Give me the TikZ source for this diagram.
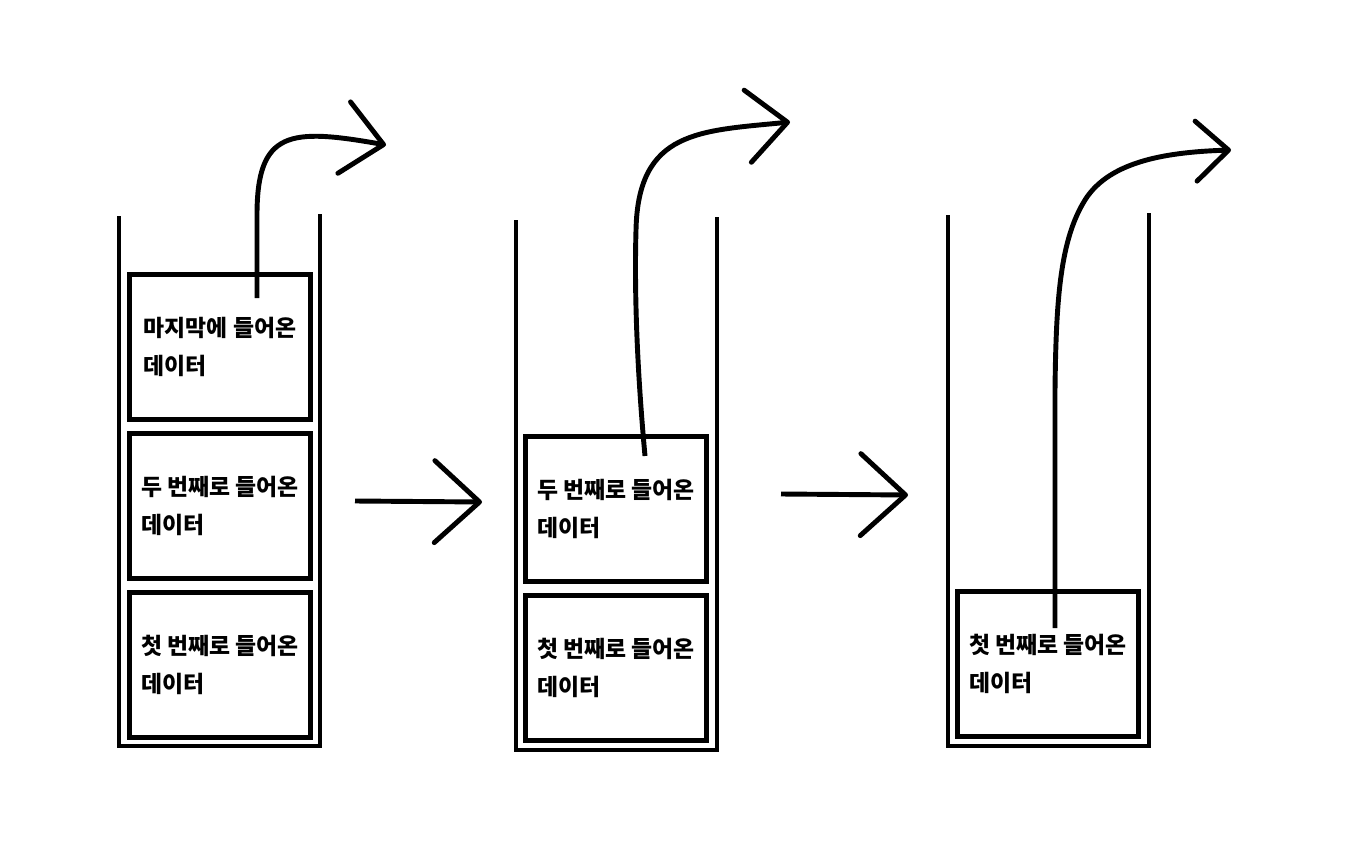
\documentclass[tikz,border=0pt]{standalone}
\usepackage{fontspec}
\newfontfamily\kr{Noto Sans CJK KR}
\usetikzlibrary{positioning, arrows.meta}

\begin{document}
\begin{tikzpicture}[x=0.02cm, y=-0.02cm, line width=2.8pt,
    data/.style={draw, minimum width=3.62cm, minimum height=2.9cm,
      align=left, font=\kr\bfseries\fontsize{13}{21.5}\selectfont},
    flow/.style={-{Straight Barb[length=0.9cm,width=1.64cm,round]}},
    pop/.style={-{Straight Barb[length=0.8cm,width=1.45cm,round]}}]
  \useasboundingbox (0,0) rectangle (1368,848);
  % stack 1
  \draw (119,216) -- (119,746) -- (320,746) -- (320,214);
  \node[data] (c1) at (220,665) {첫 번째로 들어온\\데이터};
  \node[data, above=0.18cm of c1] (b1) {두 번째로 들어온\\데이터};
  \node[data, above=0.18cm of b1] (a1) {마지막에 들어온\\데이터};
  % stack 2
  \draw (516,220) -- (516,750) -- (717,750) -- (717,217);
  \node[data] (c2) at (616,668) {첫 번째로 들어온\\데이터};
  \node[data, above=0.18cm of c2] (b2) {두 번째로 들어온\\데이터};
  % stack 3
  \draw (948,215) -- (948,746) -- (1149,746) -- (1149,213);
  \node[data] (c3) at (1048,664) {첫 번째로 들어온\\데이터};
  % arrows between
  \coordinate (h1s) at (355,501);
  \coordinate (h1e) at (482,502);
  \coordinate (h2s) at (781,494);
  \coordinate (h2e) at (908,495);
  \draw[flow] (h1s) -- (h1e);
  \draw[flow] (h2s) -- (h2e);
  % pop out
  \coordinate (p1) at (257,298);
  \coordinate (q1) at (386,145);
  \coordinate (p2) at (645,456);
  \coordinate (q2) at (790,122);
  \coordinate (p3) at (1055,628);
  \coordinate (q3) at (1231,150);
  \draw[pop] (p1) -- (257,215) .. controls (257,130) and (290,128) .. (q1);
  \draw[pop] (p2) .. controls (638,380) and (634,300) .. (636,230)
    .. controls (638,130) and (700,131) .. (q2);
  \draw[pop, -{Straight Barb[length=0.65cm,width=1.2cm,round]}] (p3) -- (1055,390)
    .. controls (1056,300) and (1060,240) .. (1085,200)
    .. controls (1110,160) and (1170,152) .. (q3);
\end{tikzpicture}
\end{document}
